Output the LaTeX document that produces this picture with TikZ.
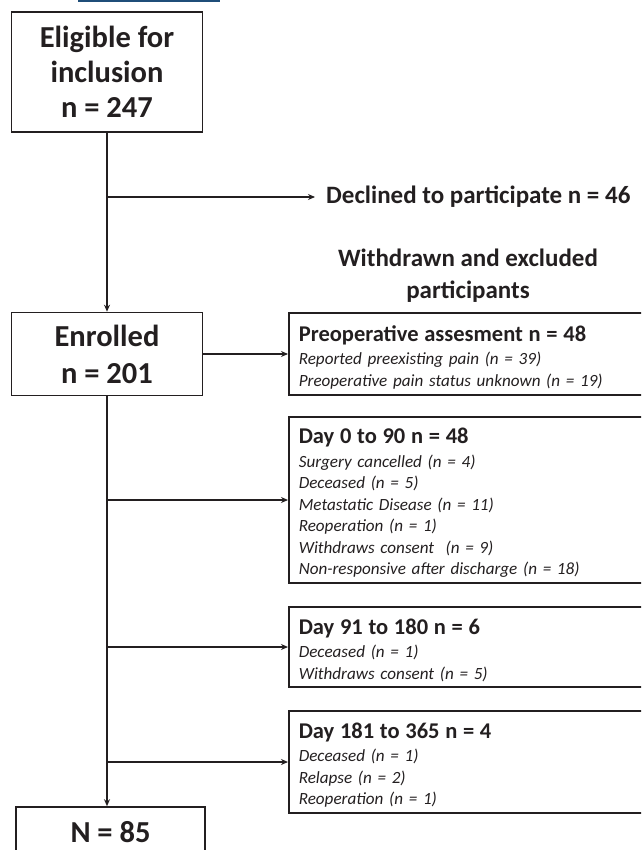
\documentclass[tikz,border=0pt]{standalone}
\usepackage{fontspec}
\setmainfont{Carlito}
\usetikzlibrary{arrows.meta}
\definecolor{ink}{HTML}{231F20}
\definecolor{linkblue}{HTML}{1F4E79}
\newcommand{\boxhead}[1]{{\fontsize{22.5}{24}\selectfont\bfseries\upshape #1}}
\newcommand{\boxend}{\par\vspace{-6pt}}
\begin{document}
\begin{tikzpicture}[x=1pt,y=-1pt,
  mainbox/.style={draw=ink, line width=1.6pt, minimum width=191pt, align=center,
    font=\fontsize{30.5}{35}\selectfont\bfseries, text=ink, inner sep=0pt},
  sidebox/.style={draw=ink, line width=1.6pt, anchor=west, text width=360pt, align=left,
    inner xsep=10pt, inner ysep=0pt, text=ink, font=\fontsize{17.1}{21.5}\selectfont\itshape},
  label/.style={text=ink, font=\fontsize{25}{32}\selectfont\bfseries, align=center, inner sep=0pt},
  conn/.style={draw=ink, line width=1.3pt},
  arr/.style={conn, -{Stealth[length=7pt,width=6pt]}}]
\clip (0,0) rectangle (641,850);
% link underline remnant
\draw[linkblue, line width=2pt] (78,1) -- (220,1);
% left column
\node[mainbox, minimum height=120pt] (elig) at (107,72) {Eligible for\\inclusion\\n = 247};
\node[mainbox, minimum height=83pt, font=\fontsize{30.5}{37}\selectfont\bfseries] (enr) at (107,354) {Enrolled\\n = 201};
\node[mainbox, minimum height=50pt, minimum width=189pt] (fin) at (110.5,832) {N = 85};
% declined
\node[label, anchor=west, inner xsep=11pt] (dec) at (315,197) {Declined to participate n = 46};
\node[label] (wd) at (468,276) {Withdrawn and excluded\\participants};
% side boxes
\node[sidebox, minimum height=82pt] (pre) at (288,354)
  {\boxhead{Preoperative assesment n = 48}\\[2pt]
   Reported preexisting pain (n = 39)\\
   Preoperative pain status unknown (n = 19)\boxend};
\node[sidebox, minimum height=166pt] (d0) at (288,500)
  {\boxhead{Day 0 to 90 n = 48}\\[2pt]
   Surgery cancelled (n = 4)\\
   Deceased (n = 5)\\
   Metastatic Disease (n = 11)\\
   Reoperation (n = 1)\\
   Withdraws consent\ \ (n = 9)\\
   Non-responsive after discharge (n = 18)\boxend};
\node[sidebox, minimum height=80pt] (d91) at (288,647)
  {\boxhead{Day 91 to 180 n = 6}\\[2pt]
   Deceased (n = 1)\\
   Withdraws consent (n = 5)\boxend};
\node[sidebox, minimum height=102pt] (d181) at (288,762)
  {\boxhead{Day 181 to 365 n = 4}\\[2pt]
   Deceased (n = 1)\\
   Relapse (n = 2)\\
   Reoperation (n = 1)\boxend};
% connectors
\coordinate (b0) at (elig.south |- dec.west);
\coordinate (b1) at (elig.south |- d0.west);
\coordinate (b2) at (elig.south |- d91.west);
\coordinate (b3) at (elig.south |- d181.west);
\draw[arr] (elig.south) -- (enr.north);
\draw[arr] (b0) -- (dec.west);
\draw[arr] (enr.east) -- (pre.west);
\draw[arr] (enr.south) -- (enr.south |- fin.north);
\draw[arr] (b1) -- (d0.west);
\draw[arr] (b2) -- (d91.west);
\draw[arr] (b3) -- (d181.west);
\end{tikzpicture}
\end{document}
